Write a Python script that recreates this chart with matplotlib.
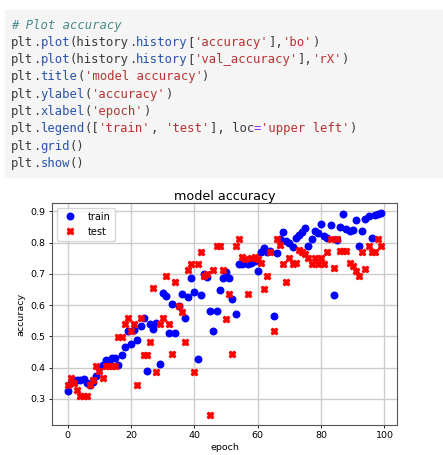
import re
import matplotlib.pyplot as plt
from matplotlib.patches import Rectangle

# values
epochs = list(range(100))
train_acc = [0.325, 0.35, 0.356, 0.36, 0.362, 0.365, 0.35, 0.345, 0.355, 0.372,
             0.40, 0.41, 0.426, 0.42, 0.43, 0.432, 0.41, 0.44, 0.465, 0.516,
             0.476, 0.52, 0.49, 0.532, 0.559, 0.388, 0.54, 0.522, 0.543, 0.412,
             0.639, 0.629, 0.511, 0.604, 0.511, 0.597, 0.634, 0.56, 0.625, 0.685,
             0.643, 0.428, 0.632, 0.70, 0.689, 0.58, 0.516, 0.58, 0.647, 0.687,
             0.707, 0.687, 0.618, 0.57, 0.73, 0.73, 0.736, 0.73, 0.733, 0.74,
             0.709, 0.77, 0.784, 0.77, 0.773, 0.564, 0.768, 0.81, 0.832, 0.805,
             0.80, 0.787, 0.815, 0.825, 0.832, 0.845, 0.789, 0.81, 0.837, 0.83,
             0.858, 0.821, 0.815, 0.855, 0.631, 0.808, 0.848, 0.89, 0.842, 0.837,
             0.84, 0.872, 0.789, 0.837, 0.874, 0.885, 0.815, 0.887, 0.89, 0.894]
test_acc = [0.345, 0.367, 0.35, 0.33, 0.308, 0.308, 0.308, 0.345, 0.36, 0.404,
            0.388, 0.367, 0.404, 0.404, 0.404, 0.404, 0.498, 0.498, 0.538, 0.559,
            0.516, 0.538, 0.345, 0.559, 0.442, 0.442, 0.481, 0.653, 0.385, 0.538,
            0.559, 0.693, 0.538, 0.444, 0.673, 0.597, 0.577, 0.481, 0.711, 0.73,
            0.385, 0.73, 0.771, 0.693, 0.70, 0.249, 0.711, 0.789, 0.789, 0.711,
            0.556, 0.634, 0.444, 0.789, 0.81, 0.753, 0.748, 0.634, 0.75, 0.755,
            0.748, 0.735, 0.652, 0.693, 0.77, 0.516, 0.81, 0.792, 0.73, 0.675,
            0.752, 0.73, 0.733, 0.775, 0.77, 0.762, 0.752, 0.73, 0.752, 0.73,
            0.752, 0.73, 0.77, 0.812, 0.717, 0.812, 0.773, 0.773, 0.773, 0.733,
            0.725, 0.709, 0.693, 0.77, 0.714, 0.789, 0.77, 0.77, 0.81, 0.789]
legend_labels = ['train', 'test']

code_lines = [
    "# Plot accuracy",
    "plt.plot(history.history['accuracy'],'bo')",
    "plt.plot(history.history['val_accuracy'],'rX')",
    "plt.title('model accuracy')",
    "plt.ylabel('accuracy')",
    "plt.xlabel('epoch')",
    "plt.legend(['train', 'test'], loc='upper left')",
    "plt.grid()",
    "plt.show()",
]

W, H = 443, 455
fig = plt.figure(figsize=(W / 100, H / 100), dpi=100)

# notebook code cell
fig.add_artist(Rectangle((5 / W, 1 - 177 / H), 1, 167 / H,
                         transform=fig.transFigure, color="#f5f5f5", zorder=0))

char_w = 7.36
mono = dict(family="DejaVu Sans Mono", fontsize=8.8, va="center")
for i, line in enumerate(code_lines):
    y = 1 - (25 + i * 17.3) / H
    if line.startswith("#"):
        fig.text(11 / W, y, line, color="#4a8a8a", style="italic", **mono)
        continue
    col = 0
    for tok in re.findall(r"'[^']*'|\.\w+|=|[^'.=]+", line):
        if tok.startswith("'"):
            parts = [(tok, "#b83232")]
        elif tok.startswith("."):
            parts = [(".", "#3a3a3a"), (tok[1:], "#2a54a8")]
        elif tok == "=":
            parts = [(tok, "#aa22ff")]
        else:
            parts = [(tok, "#3a3a3a")]
        for txt, c in parts:
            fig.text((11 + col * char_w) / W, y, txt, color=c, **mono)
            col += len(txt)

# the chart
ax = fig.add_axes([52 / W, 1 - 425 / H, 345 / W, 222 / H])
ax.plot(epochs, train_acc, "bo", markersize=4.7)
ax.plot(epochs, test_acc, "rX", markersize=4.6)
ax.set_title("model accuracy", fontsize=9.2, pad=2.5)
ax.set_ylabel("accuracy", fontsize=6.8, labelpad=4)
ax.set_xlabel("epoch", fontsize=6.8, labelpad=2)
ax.legend(legend_labels, loc="upper left", fontsize=7)
ax.grid(color="#cccccc", linewidth=1)
ax.tick_params(labelsize=6.8, length=2.5, width=0.6, pad=2)
for s in ax.spines.values():
    s.set_color("#555555")

fig.savefig("out.png", dpi=100)
